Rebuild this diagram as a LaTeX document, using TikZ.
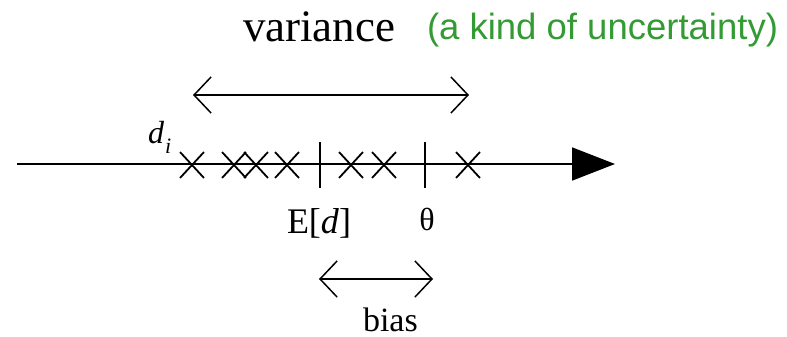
\documentclass[tikz,border=0pt]{standalone}
\usepackage{fontspec}
\usetikzlibrary{arrows.meta,shapes.misc}
\newfontfamily\tnr{Liberation Serif}
\newfontfamily\arl{Liberation Sans}
\definecolor{lblgreen}{RGB}{52,155,52}
\tikzset{
  axisline/.style={line width=1.8pt,-{Triangle[length=43pt,width=33pt]}},
  spanarrow/.style={line width=1.5pt,{Straight Barb[length=17pt,width=36pt,line width=1.5pt]}-{Straight Barb[length=17pt,width=36pt,line width=1.5pt]}},
  xmark/.style={cross out,draw,line width=1.8pt,inner sep=0pt,minimum width=22pt,minimum height=24pt},
  tickline/.style={line width=1.7pt},
  lbl/.style={inner sep=0pt,outer sep=0pt},
}
\begin{document}
\begin{tikzpicture}[x=1pt,y=-1pt]
\useasboundingbox (0,0) rectangle (787,337);
% axis
\coordinate (axL) at (17,164);
\coordinate (axR) at (615,164);
\draw[axisline] (axL) -- (axR);
% crosses
\node[xmark] (c1) at (192,165) {};
\node[xmark] (c2) at (234,165) {};
\node[xmark] (c3) at (256,165) {};
\node[xmark] (c4) at (287,165) {};
\node[xmark] (c5) at (351,165) {};
\node[xmark] (c6) at (384,165) {};
\node[xmark] (c7) at (468,165) {};
% ticks
\coordinate (e1) at (320,142);
\coordinate (e2) at (320,188);
\coordinate (t1) at (425,142);
\coordinate (t2) at (425,188);
\draw[tickline] (e1) -- (e2);
\draw[tickline] (t1) -- (t2);
% labels
\node[lbl,anchor=base west] (var) at (243,42) {\tnr\fontsize{45}{50}\selectfont variance};
\node[lbl,anchor=base west,text=lblgreen] (unc) at (427,40) {\arl\fontsize{36.5}{40}\selectfont (a kind of uncertainty)};
\node[lbl,anchor=base west] (di) at (148,143) {\tnr\fontsize{32}{36}\selectfont\itshape d\kern1pt\raisebox{-0.33em}{\fontsize{22}{24}\selectfont i}};
\node[lbl,anchor=base west] (Ed) at (287,233) {\tnr\fontsize{36}{40}\selectfont E[\textit{d}]};
\node[lbl,anchor=base] (th) at (427,230) {\tnr\fontsize{32}{36}\selectfont θ};
\node[lbl,anchor=base west] (bias) at (363,331) {\tnr\fontsize{34}{38}\selectfont bias};
% span arrows
\coordinate (vL) at (193,95);
\coordinate (vR) at (469,95);
\draw[spanarrow] (vL) -- (vR);
\coordinate (bL) at (319,279);
\coordinate (bR) at (433,279);
\draw[spanarrow] (bL) -- (bR);
\end{tikzpicture}
\end{document}
